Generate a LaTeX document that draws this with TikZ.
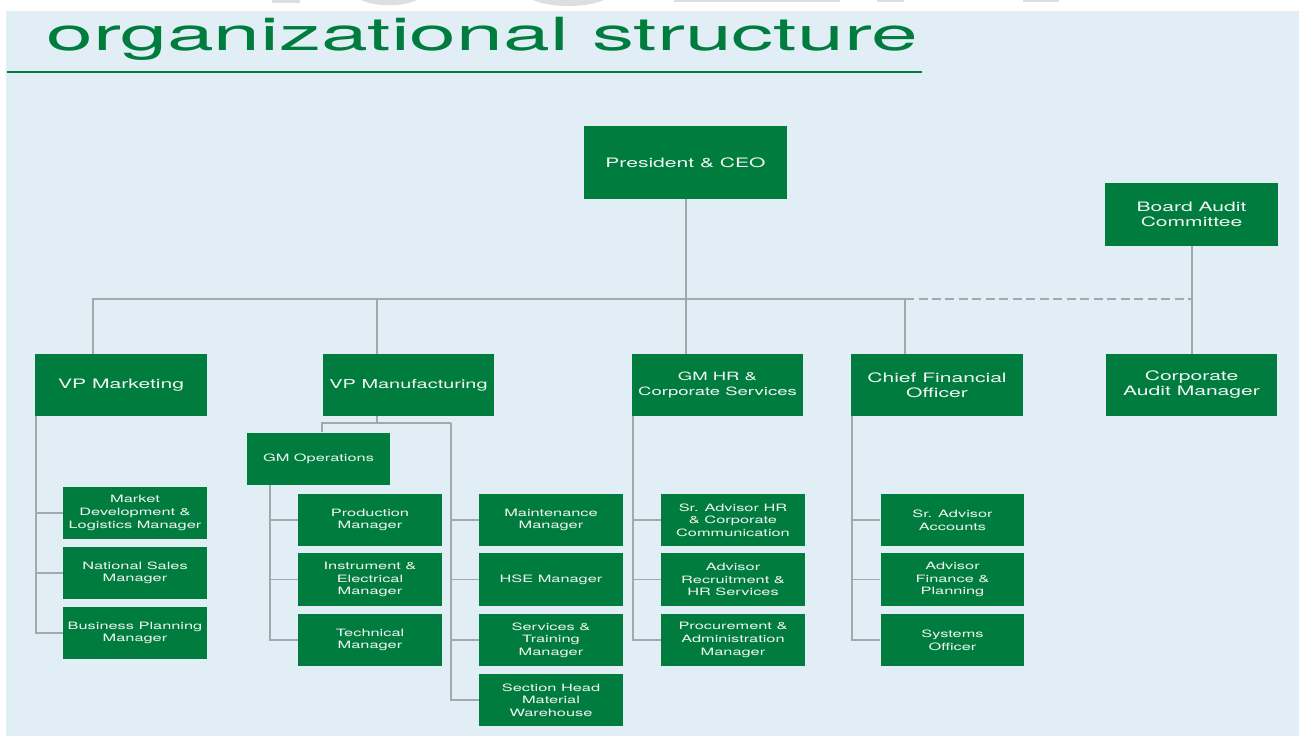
\documentclass[tikz,border=0pt]{standalone}
\usepackage{fontspec}
\newfontfamily\chartfont{TeX Gyre Heros}[FakeStretch=1.62]
\newfontfamily\titlefont{TeX Gyre Heros}[FakeStretch=1.84]
\definecolor{boxgreen}{RGB}{0,125,62}
\definecolor{paleblue}{RGB}{225,238,245}
\definecolor{linkgray}{RGB}{165,168,171}
\definecolor{ghostgray}{RGB}{222,222,222}
\definecolor{boxtext}{RGB}{242,245,242}

\begin{document}
\begin{tikzpicture}[x=0.02cm,y=-0.02cm,
  post/.style={fill=boxgreen,text=boxtext,align=center,inner sep=0pt,
    minimum width=3.44cm,minimum height=1.24cm,
    font=\chartfont\fontsize{7.4}{8.6}\selectfont},
  unit/.style={post,minimum width=2.88cm,minimum height=1.05cm,
    font=\chartfont\fontsize{5.75}{7.2}\selectfont},
  link/.style={draw=linkgray,line width=0.04cm},
  dashlink/.style={link,dash pattern=on 0.18cm off 0.09cm}]
  \useasboundingbox (0,0) rectangle (1299,736);
  \fill[paleblue] (6,11) rectangle (1299,736);
  % faded heading cut off at the top
  \fill[ghostgray] (272,0) rectangle (300,3);
  \fill[ghostgray] (361,0) .. controls (375,7) and (403,7) .. (417,0) -- cycle;
  \fill[ghostgray] (533,0) .. controls (550,8) and (587,8) .. (604,0) -- cycle;
  \fill[ghostgray] (674,0) rectangle (840,2);
  \fill[ghostgray] (877,0) rectangle (904,2);
  \fill[ghostgray] (1023,0) rectangle (1059,2);

  \node[anchor=base west,inner sep=0pt,text=boxgreen,
    font=\titlefont\fontsize{26}{28}\selectfont] (title) at (46,51) {organizational structure};
  \draw[draw=boxgreen,line width=0.04cm] (7,72) -- (922,72);

  \node[post,minimum width=4.06cm,minimum height=1.46cm] (ceo) at (685.5,162.5) {President \& CEO};
  \node[post,minimum width=3.46cm,minimum height=1.26cm] (bac) at (1191.5,214.5) {Board Audit\\Committee};
  \node[post] (vpm) at (121,385) {VP Marketing};
  \node[post,font=\chartfont\fontsize{7}{8.6}\selectfont] (vpf) at (408.5,385) {VP Manufacturing};
  \node[post,font=\chartfont\fontsize{6.5}{8.6}\selectfont] (hr) at (717.5,385) {GM HR \&\\Corporate Services};
  \node[post] (cfo) at (937,385) {Chief Financial\\Officer};
  \node[post] (cam) at (1191.5,385) {Corporate\\Audit Manager};

  \node[unit] (mdl) at (135,513) {Market\\Development \&\\Logistics Manager};
  \node[unit] (nsm) at (135,573) {National Sales\\Manager};
  \node[unit] (bpm) at (135,633) {Business Planning\\Manager};

  \node[unit,minimum width=2.86cm] (gmo) at (318.5,459) {GM Operations};
  \node[unit] (prm) at (370,520) {Production\\Manager};
  \node[unit] (iem) at (370,579.5) {Instrument \&\\Electrical\\Manager};
  \node[unit] (tcm) at (370,640) {Technical\\Manager};

  \node[unit] (mtm) at (551,520) {Maintenance\\Manager};
  \node[unit] (hse) at (551,579.5) {HSE Manager};
  \node[unit] (stm) at (551,640) {Services \&\\Training\\Manager};
  \node[unit] (shm) at (551,700) {Section Head\\Material\\Warehouse};

  \node[unit] (sah) at (733,520) {Sr. Advisor HR\\\& Corporate\\Communication};
  \node[unit] (arh) at (733,579.5) {Advisor\\Recruitment \&\\HR Services};
  \node[unit] (pam) at (733,640) {Procurement \&\\Administration\\Manager};

  \node[unit] (saa) at (952.5,520) {Sr. Advisor\\Accounts};
  \node[unit] (afp) at (952.5,579.5) {Advisor\\Finance \&\\Planning};
  \node[unit] (syo) at (952.5,640) {Systems\\Officer};

  \coordinate (busL) at (93,299);
  \coordinate (busM) at (377,299);
  \coordinate (busR) at (905,299);
  \draw[link] (ceo.south) -- (ceo.south |- hr.north);
  \draw[link] (busL |- vpm.north) |- (busR) -- (busR |- cfo.north);
  \draw[link] (busM) -- (busM |- vpf.north);
  \draw[dashlink] (busR) -- (bac.south |- busR);
  \draw[link] (bac.south) -- (cam.north);

  \coordinate (mkj) at (36,416);
  \foreach \n in {mdl,nsm,bpm} \draw[link] (mkj) |- (\n.west);
  \coordinate (mfj) at (377,416);
  \coordinate (mfa) at (322,423);
  \coordinate (mfb) at (451,423);
  \draw[link] (mfj) |- (mfa) -- (mfa |- gmo.north);
  \draw[link] (mfj) |- (mfb);
  \foreach \n in {mtm,hse,stm,shm} \draw[link] (mfb) |- (\n.west);
  \coordinate (opj) at (270,485);
  \foreach \n in {prm,iem,tcm} \draw[link] (opj) |- (\n.west);
  \coordinate (hrj) at (633,416);
  \foreach \n in {sah,arh,pam} \draw[link] (hrj) |- (\n.west);
  \coordinate (cfj) at (852,416);
  \foreach \n in {saa,afp,syo} \draw[link] (cfj) |- (\n.west);
\end{tikzpicture}
\end{document}
